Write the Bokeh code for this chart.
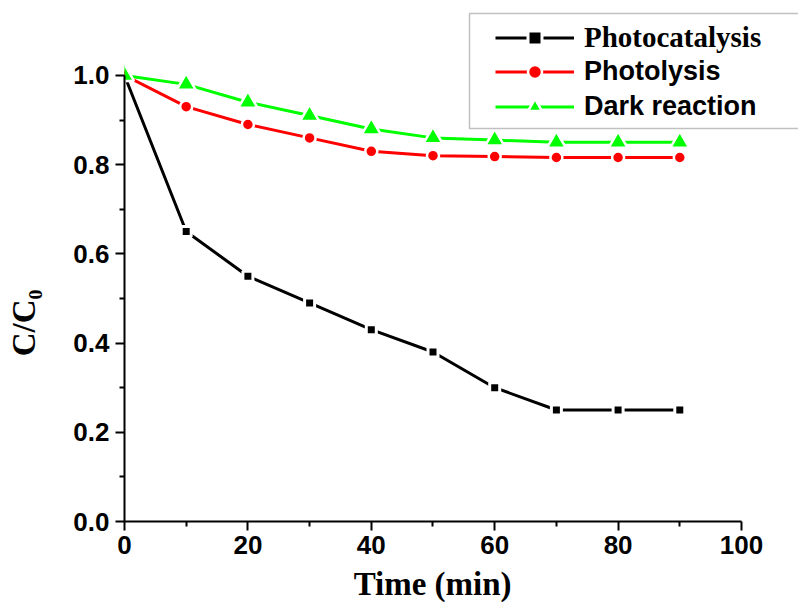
from bokeh.plotting import figure
from bokeh.models import (Range1d, FixedTicker, PrintfTickFormatter, Legend,
                          LegendItem, BoxAnnotation)
from bokeh.embed import file_html
from bokeh.resources import INLINE

time_min = [0, 10, 20, 30, 40, 50, 60, 70, 80, 90]
photocatalysis = [1.0, 0.65, 0.55, 0.49, 0.43, 0.38, 0.30, 0.25, 0.25, 0.25]
photolysis = [1.0, 0.93, 0.89, 0.86, 0.83, 0.82, 0.818, 0.816, 0.816, 0.816]
dark_reaction = [1.0, 0.98, 0.94, 0.91, 0.88, 0.86, 0.855, 0.85, 0.85, 0.85]

x_ticks = [0, 20, 40, 60, 80, 100]
x_minor = [10, 30, 50, 70, 90]
y_ticks = [0.0, 0.2, 0.4, 0.6, 0.8, 1.0]
y_minor = [0.1, 0.3, 0.5, 0.7, 0.9]

NB = "\u00a0"

p = figure(width=798, height=610, x_range=Range1d(0, 109.24), y_range=Range1d(0, 1.168),
           output_backend="svg", toolbar_location=None,
           min_border_left=124, min_border_right=0, min_border_top=0, min_border_bottom=89)
p.grid.visible = False
p.outline_line_color = None
p.background_fill_color = "white"

for ax, ticks, minor, fmt in ((p.xaxis[0], x_ticks, x_minor, "%d"), (p.yaxis[0], y_ticks, y_minor, "%.1f")):
    ax.ticker = FixedTicker(ticks=ticks, minor_ticks=minor)
    ax.formatter = PrintfTickFormatter(format=fmt)
    ax.axis_line_width = 2
    ax.major_tick_line_width = 2
    ax.minor_tick_line_width = 2
    ax.major_tick_out = 9
    ax.major_tick_in = 0
    ax.minor_tick_out = 5
    ax.minor_tick_in = 0
    ax.major_label_text_font = "Liberation Sans"
    ax.major_label_text_font_style = "bold"
    ax.major_label_text_font_size = "26px"
    ax.major_label_text_color = "black"
    ax.axis_label_text_font = "Liberation Serif"
    ax.axis_label_text_font_style = "bold"
    ax.axis_label_text_font_size = "33px"
    ax.axis_label_text_color = "black"

p.xaxis[0].bounds = (0, 100)
p.yaxis[0].bounds = (0, 1.0)
p.xaxis[0].axis_label = "Time (min)" + NB * 7
p.yaxis[0].axis_label = "C/C\u2080" + NB * 15
p.xaxis[0].major_label_standoff = 5
p.xaxis[0].axis_label_standoff = 9
p.yaxis[0].major_label_standoff = 6
p.yaxis[0].axis_label_standoff = 28

series = [
    ("Photocatalysis", photocatalysis, "black", "square", 10, 3),
    ("Photolysis", photolysis, "#ff0000", "circle", 12, 2.5),
    ("Dark reaction", dark_reaction, "#00ff00", "triangle", 19, 2.5),
]
items = []
for name, ys, color, marker, size, lw in series:
    r1 = p.line(time_min, ys, line_color=color, line_width=3)
    r2 = p.scatter(time_min, ys, marker=marker, size=size, fill_color=color,
                   line_color="white", line_width=lw)
    items.append(LegendItem(label=name, renderers=[r1, r2]))

common = dict(border_line_color=None, background_fill_alpha=0, padding=0, margin=0,
              glyph_width=79, glyph_height=35, label_height=35, label_standoff=10,
              spacing=0, label_text_font_style="bold", label_text_color="black")
leg_a = Legend(items=items[:1], location=(371, 466), label_text_font="Liberation Serif",
               label_text_font_size="29px", **common)
leg_b = Legend(items=items[1:], location=(371, 397), label_text_font="Liberation Sans",
               label_text_font_size="27px", **common)
p.add_layout(leg_a, "center")
p.add_layout(leg_b, "center")

box = BoxAnnotation(left=345, right=700, top=508, bottom=393,
                    left_units="screen", right_units="screen", top_units="screen", bottom_units="screen",
                    fill_alpha=0, line_color="#333333", line_width=1.5, level="annotation")
p.add_layout(box)

open("out.html", "w").write(file_html(p, INLINE))
